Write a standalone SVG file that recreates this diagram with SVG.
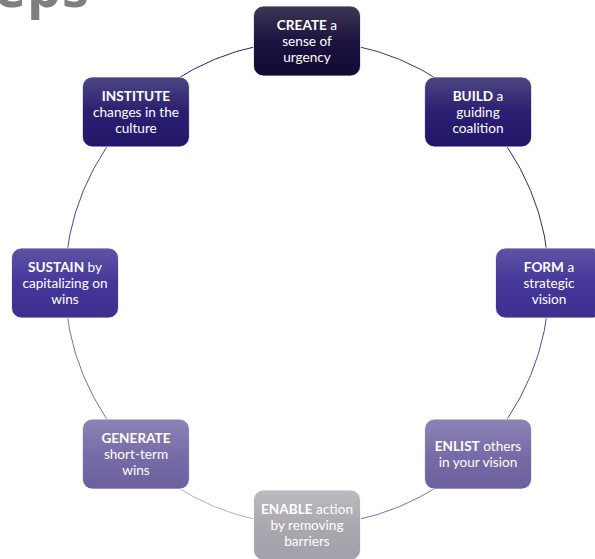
<svg xmlns="http://www.w3.org/2000/svg" width="595" height="559" viewBox="0 0 595 559">
<defs>
<linearGradient id="g1" x1="0" y1="0" x2="0" y2="1"><stop offset="0" stop-color="#3d3654"/><stop offset="0.5" stop-color="#1c1440"/><stop offset="1" stop-color="#110833"/></linearGradient>
<linearGradient id="g2" x1="0" y1="0" x2="0" y2="1"><stop offset="0" stop-color="#4d4783"/><stop offset="0.5" stop-color="#2a1f70"/><stop offset="1" stop-color="#22166a"/></linearGradient>
<linearGradient id="g3" x1="0" y1="0" x2="0" y2="1"><stop offset="0" stop-color="#5e54a4"/><stop offset="0.5" stop-color="#45379a"/><stop offset="1" stop-color="#3e3090"/></linearGradient>
<linearGradient id="g4" x1="0" y1="0" x2="0" y2="1"><stop offset="0" stop-color="#8c84b4"/><stop offset="0.5" stop-color="#786ca8"/><stop offset="1" stop-color="#6c5f9e"/></linearGradient>
<linearGradient id="g5" x1="0" y1="0" x2="0" y2="1"><stop offset="0" stop-color="#bdbbc1"/><stop offset="0.5" stop-color="#aba9b0"/><stop offset="1" stop-color="#a2a0a8"/></linearGradient>
</defs>
<style>
.box{stroke:#ffffff;stroke-width:0.8;}
.t{font-family:Lato,"Open Sans","Noto Sans",sans-serif;font-size:13.6px;fill:#ffffff;text-anchor:middle;}
.b{font-weight:bold;}
.arc{fill:none;stroke-width:1;}
.title{font-family:"Open Sans","Noto Sans",sans-serif;font-size:54px;font-weight:bold;fill:#7f7f7f;letter-spacing:1px;}
</style>
<text class="title" x="-6" y="7">eps</text>
<g id="connectors">
<path class="arc" stroke="#3a3372" d="M307 41 A242 242 0 0 1 478.1 111.9"/>
<path class="arc" stroke="#2e2674" d="M478.1 111.9 A242 242 0 0 1 549 283"/>
<path class="arc" stroke="#5449a0" d="M549 283 A242 242 0 0 1 478.1 454.1"/>
<path class="arc" stroke="#7d72b2" d="M478.1 454.1 A242 242 0 0 1 307 525"/>
<path class="arc" stroke="#b2b0c2" d="M307 525 A242 242 0 0 1 135.9 454.1"/>
<path class="arc" stroke="#7a6eaa" d="M135.9 454.1 A242 242 0 0 1 65 283"/>
<path class="arc" stroke="#4c42a0" d="M65 283 A242 242 0 0 1 135.9 111.9"/>
<path class="arc" stroke="#2c226c" d="M135.9 111.9 A242 242 0 0 1 307 41"/>
</g>
<g id="create">
<rect class="box" x="253.5" y="6" width="107" height="70" rx="10" fill="url(#g1)"/>
<text class="t" x="307" y="29.5"><tspan class="b">CREATE</tspan> a</text>
<text class="t" x="307" y="45.5">sense of</text>
<text class="t" x="307" y="61.5">urgency</text>
</g>
<g id="build">
<rect class="box" x="424.6" y="76.9" width="107" height="70" rx="10" fill="url(#g2)"/>
<text class="t" x="478" y="100.5"><tspan class="b">BUILD</tspan> a</text>
<text class="t" x="478" y="116.5">guiding</text>
<text class="t" x="478" y="132.5">coalition</text>
</g>
<g id="form">
<rect class="box" x="495.5" y="248" width="107" height="70" rx="10" fill="url(#g3)"/>
<text class="t" x="549" y="271.5"><tspan class="b">FORM</tspan> a</text>
<text class="t" x="549" y="287.5">strategic</text>
<text class="t" x="549" y="303.5">vision</text>
</g>
<g id="enlist">
<rect class="box" x="424.6" y="419.1" width="107" height="70" rx="10" fill="url(#g4)"/>
<text class="t" x="478" y="450.5"><tspan class="b">ENLIST</tspan> others</text>
<text class="t" x="478" y="466.5">in your vision</text>
</g>
<g id="enable">
<rect class="box" x="253.5" y="490" width="107" height="70" rx="10" fill="url(#g5)"/>
<text class="t" x="307" y="513.5"><tspan class="b">ENABLE</tspan> action</text>
<text class="t" x="307" y="529.5">by removing</text>
<text class="t" x="307" y="545.5">barriers</text>
</g>
<g id="generate">
<rect class="box" x="82.4" y="419.1" width="107" height="70" rx="10" fill="url(#g4)"/>
<text class="t" x="136" y="442.5"><tspan class="b">GENERATE</tspan></text>
<text class="t" x="136" y="458.5">short-term</text>
<text class="t" x="136" y="474.5">wins</text>
</g>
<g id="sustain">
<rect class="box" x="11.5" y="248" width="107" height="70" rx="10" fill="url(#g3)"/>
<text class="t" x="65" y="271.5"><tspan class="b">SUSTAIN</tspan> by</text>
<text class="t" x="65" y="287.5">capitalizing on</text>
<text class="t" x="65" y="303.5">wins</text>
</g>
<g id="institute">
<rect class="box" x="82.4" y="76.9" width="107" height="70" rx="10" fill="url(#g2)"/>
<text class="t" x="136" y="100.5"><tspan class="b">INSTITUTE</tspan></text>
<text class="t" x="136" y="116.5">changes in the</text>
<text class="t" x="136" y="132.5">culture</text>
</g>
</svg>
